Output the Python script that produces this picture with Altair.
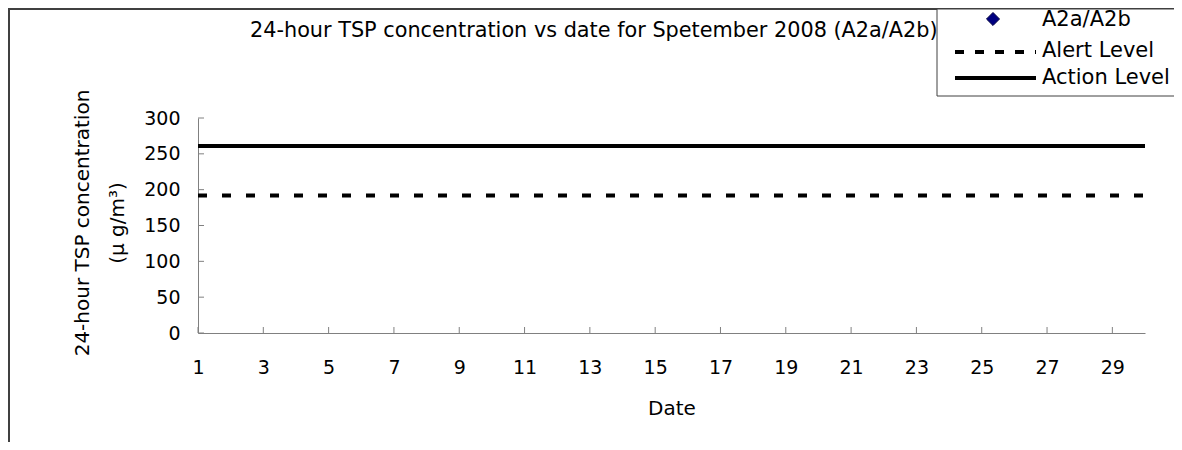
import altair as alt
import pandas as pd

# ---- data ----
tick_dates = [1, 3, 5, 7, 9, 11, 13, 15, 17, 19, 21, 23, 25, 27, 29]
y_ticks = [0, 50, 100, 150, 200, 250, 300]
level_dates = [1, 30]
alert_values = [192, 192]
action_values = [261, 261]
a2_dates = []          # no A2a/A2b measurements plotted in the reference
a2_values = []
legend_labels = ["A2a/A2b", "Alert Level", "Action Level"]
chart_title = "24-hour TSP concentration vs date for Spetember 2008 (A2a/A2b)"
x_title = "Date"
y_title = ["24-hour TSP concentration", "(\u03bc g/m\u00b3)"]

W, H = 947, 215
FONT = "DejaVu Sans"
AXIS_GREY = "#808080"

x_scale = alt.Scale(domain=[1, 30], nice=False, zero=False)
y_scale = alt.Scale(domain=[0, 300], nice=False, zero=True)

x_axis = alt.Axis(
    values=tick_dates, title=x_title, grid=False, ticks=False, tickSize=0,
    domainColor=AXIS_GREY, domainWidth=1, labelFont=FONT, labelFontSize=19,
    labelColor="black", labelPadding=25, labelFlush=False, labelOverlap=False,
    titleFont=FONT, titleFontSize=20, titleFontWeight="normal", titleColor="black",
    titleX=W / 2, titleY=75, titleBaseline="middle", titleAlign="center",
)
y_axis = alt.Axis(
    values=y_ticks, title=y_title, grid=False, ticks=False, tickSize=0,
    domainColor=AXIS_GREY, domainWidth=1, labelFont=FONT, labelFontSize=19,
    labelColor="black", labelPadding=18, labelFlush=False, labelOverlap=False,
    titleFont=FONT, titleFontSize=20, titleFontWeight="normal", titleColor="black",
    titleX=-116, titleY=H / 2 - 3, titleAngle=270, titleBaseline="middle",
    titleAlign="center", titleLineHeight=35,
)

X = alt.X("date:Q", scale=x_scale, axis=x_axis)
Y = alt.Y("value:Q", scale=y_scale, axis=y_axis)

one = pd.DataFrame({"k": [0]})

frame = alt.Chart(one).mark_rect(fillOpacity=0, stroke="#404040", strokeWidth=2).encode(
    x=alt.value(-189), x2=alt.value(2000), y=alt.value(-109), y2=alt.value(1000)
)

alert_df = pd.DataFrame({"date": level_dates, "value": alert_values})
action_df = pd.DataFrame({"date": level_dates, "value": action_values})
a2_df = pd.DataFrame({"date": pd.Series(a2_dates, dtype=float), "value": pd.Series(a2_values, dtype=float)})

alert = alt.Chart(alert_df).mark_line(color="black", strokeWidth=4, strokeDash=[9, 15]).encode(x=X, y=Y)
action = alt.Chart(action_df).mark_line(color="black", strokeWidth=4).encode(x=X, y=Y)
a2 = alt.Chart(a2_df).mark_point(shape="diamond", filled=True, fill="#000080", stroke="#000040",
                                 strokeWidth=1, size=170, opacity=1).encode(x=X, y=Y)

xticks = alt.Chart(pd.DataFrame({"date": tick_dates})).mark_rule(color=AXIS_GREY, strokeWidth=1).encode(
    x=X, y=alt.value(H), y2=alt.value(H - 6)
)
yticks = alt.Chart(pd.DataFrame({"value": y_ticks})).mark_rule(color=AXIS_GREY, strokeWidth=1).encode(
    y=Y, x=alt.value(0), x2=alt.value(6)
)

title = alt.Chart(pd.DataFrame({"t": [chart_title]})).mark_text(
    align="left", baseline="middle", font=FONT, fontSize=20.8, color="black"
).encode(text="t:N", x=alt.value(52), y=alt.value(-87))

# ---- legend (drawn by hand, boxed, top right) ----
legend_box = alt.Chart(one).mark_rect(fill="white", stroke="#404040", strokeWidth=1).encode(
    x=alt.value(739), x2=alt.value(1100), y=alt.value(-109), y2=alt.value(-22)
)
leg_diamond = alt.Chart(one).mark_point(shape="diamond", filled=True, fill="#000080", stroke="#000040",
                                         strokeWidth=1, size=170, opacity=1).encode(
    x=alt.value(795), y=alt.value(-99)
)
leg_alert = alt.Chart(one).mark_rule(color="black", strokeWidth=4, strokeDash=[9, 11]).encode(
    x=alt.value(757), x2=alt.value(838), y=alt.value(-66)
)
leg_action = alt.Chart(one).mark_rule(color="black", strokeWidth=4).encode(
    x=alt.value(757), x2=alt.value(838), y=alt.value(-40)
)
leg_df = pd.DataFrame({"label": legend_labels, "ypos": [-98, -67, -40]})
leg_text = alt.Chart(leg_df).mark_text(
    align="left", baseline="middle", font=FONT, fontSize=21, color="black"
).encode(text="label:N", x=alt.value(844), y=alt.Y("ypos:Q", scale=None))

chart = alt.layer(
    frame, xticks, yticks, alert, action, a2, title,
    legend_box, leg_diamond, leg_alert, leg_action, leg_text,
).properties(
    width=W, height=H,
    autosize=alt.AutoSizeParams(type="none"),
    padding={"left": 190, "top": 110, "right": 29, "bottom": 109},
    background="white",
).configure_view(stroke=None)

chart.save("out.html", embed_options={"renderer": "svg", "actions": False})
